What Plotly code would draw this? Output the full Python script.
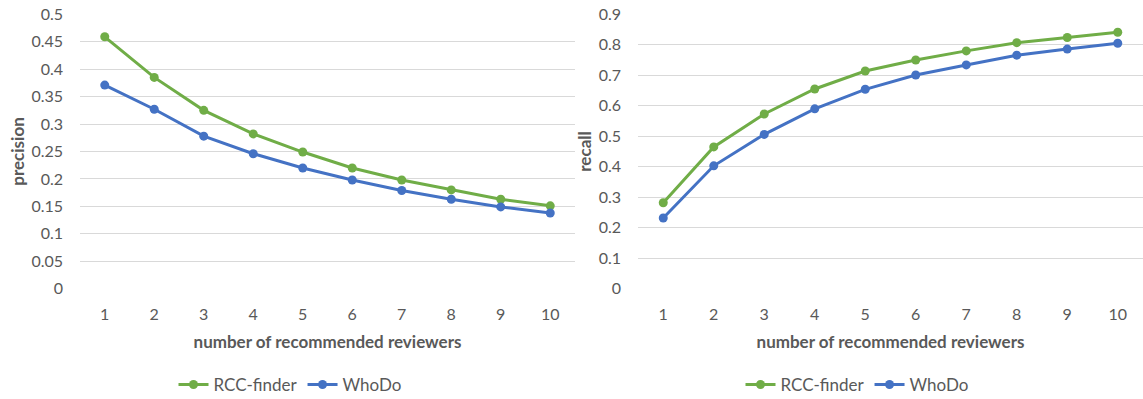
import plotly.graph_objects as go

reviewers = [1, 2, 3, 4, 5, 6, 7, 8, 9, 10]
x_labels = ["1", "2", "3", "4", "5", "6", "7", "8", "9", "10"]

precision_rcc = [0.459, 0.385, 0.325, 0.282, 0.249, 0.220, 0.198, 0.180, 0.163, 0.151]
precision_whodo = [0.371, 0.327, 0.278, 0.246, 0.220, 0.198, 0.179, 0.163, 0.149, 0.138]

recall_rcc = [0.282, 0.465, 0.573, 0.655, 0.714, 0.750, 0.780, 0.807, 0.824, 0.841]
recall_whodo = [0.232, 0.403, 0.506, 0.590, 0.654, 0.701, 0.734, 0.766, 0.786, 0.805]

prec_ticks = [0, 0.05, 0.1, 0.15, 0.2, 0.25, 0.3, 0.35, 0.4, 0.45, 0.5]
prec_ticktext = ["0", "0.05", "0.1", "0.15", "0.2", "0.25", "0.3", "0.35", "0.4", "0.45", "0.5"]
rec_ticks = [0, 0.1, 0.2, 0.3, 0.4, 0.5, 0.6, 0.7, 0.8, 0.9]
rec_ticktext = ["0", "0.1", "0.2", "0.3", "0.4", "0.5", "0.6", "0.7", "0.8", "0.9"]

GREEN = "#70AD47"
BLUE = "#4472C4"
FONT = "Lato"
TXT = "#595959"
GRID = "#D9D9D9"

fig = go.Figure()

def add(x, y, name, color, xa, ya, legend):
    fig.add_trace(go.Scatter(
        x=x, y=y, name=name, mode="lines+markers",
        line=dict(color=color, width=3),
        marker=dict(color=color, size=9),
        xaxis=xa, yaxis=ya, legend=legend,
    ))

add(reviewers, precision_rcc, "RCC-finder", GREEN, "x", "y", "legend")
add(reviewers, precision_whodo, "WhoDo", BLUE, "x", "y", "legend")
add(reviewers, recall_rcc, "RCC-finder", GREEN, "x2", "y2", "legend2")
add(reviewers, recall_whodo, "WhoDo", BLUE, "x2", "y2", "legend2")

W = 1143
H = 399

def px(x):
    return x / W

def py(y):
    return 1 - y / H

ydom = [py(288.7), py(14.3)]

xcommon = dict(
    range=[0.5, 10.5], tickmode="array", tickvals=reviewers, ticktext=x_labels,
    showgrid=False, zeroline=False, showline=False, ticks="",
    tickfont=dict(family=FONT, size=16, color=TXT), ticklabelstandoff=14,
    automargin=False, ticklabeloverflow="allow",
)
ycommon = dict(
    showgrid=True, gridcolor=GRID, gridwidth=1, zeroline=False, showline=False, ticks="",
    tickfont=dict(family=FONT, size=16, color=TXT), ticklabelstandoff=16,
    automargin=False, ticklabeloverflow="allow",
)
TFONT = dict(family=FONT, size=17, color=TXT)

fig.update_layout(
    width=W, height=H,
    margin=dict(l=0, r=0, t=0, b=0, autoexpand=False),
    paper_bgcolor="white", plot_bgcolor="white",
    showlegend=True,
    xaxis=dict(domain=[px(80), px(575)], anchor="y",
               title=dict(text="<b>number of recommended reviewers</b>", font=TFONT, standoff=14),
               **xcommon),
    yaxis=dict(domain=ydom, anchor="x", range=[0, 0.5], tickvals=prec_ticks, ticktext=prec_ticktext,
               title=dict(text="<b>precision</b>", font=TFONT, standoff=2),
               **ycommon),
    xaxis2=dict(domain=[px(638), 1.0], anchor="y2",
                title=dict(text="<b>number of recommended reviewers</b>", font=TFONT, standoff=14),
                **xcommon),
    yaxis2=dict(domain=ydom, anchor="x2", range=[0, 0.9], tickvals=rec_ticks, ticktext=rec_ticktext,
                title=dict(text="<b>recall</b>", font=TFONT, standoff=2),
                **ycommon),
    legend=dict(orientation="h", x=px(290), xanchor="center", y=py(385), yanchor="middle",
                font=dict(family=FONT, size=17, color=TXT), itemwidth=30, bgcolor="rgba(0,0,0,0)"),
    legend2=dict(orientation="h", x=px(857), xanchor="center", y=py(385), yanchor="middle",
                 font=dict(family=FONT, size=17, color=TXT), itemwidth=30, bgcolor="rgba(0,0,0,0)"),
)

fig.write_html("out.html", config={"displayModeBar": False},
               post_script="document.body.style.margin='0';")
